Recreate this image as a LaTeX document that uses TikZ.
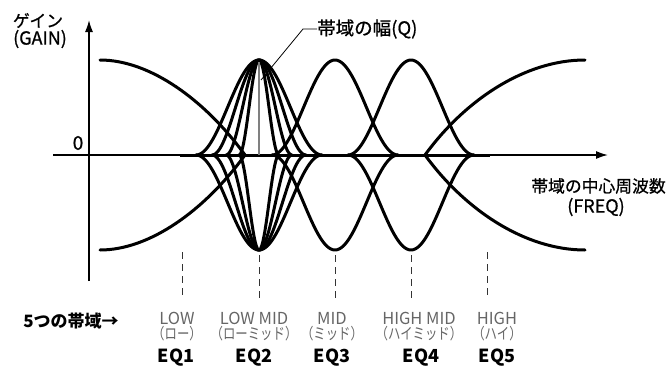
\documentclass[tikz,border=0pt]{standalone}
\usepackage{fontspec}
\setmainfont{Noto Sans CJK JP}
\newfontfamily\kanafont[FakeStretch=0.8]{Noto Sans CJK JP}
\newfontfamily\medfont[FakeBold=0.8]{Noto Sans CJK JP}
\usetikzlibrary{arrows.meta}
\begin{document}
\begin{tikzpicture}[x=1pt,y=-1pt,
  curve/.style={line width=3pt, line join=round, line cap=round},
  axisline/.style={line width=1.5pt, -{Latex[length=12pt,width=8pt]}},
  guide/.style={line width=1pt, black!80, dash pattern=on 7pt off 5pt},
  qline/.style={line width=1.5pt, black!50},
  leader/.style={line width=0.8pt},
  txt/.style={inner sep=0pt, font=\medfont\fontsize{16.8}{17}\selectfont},
  latin/.style={inner sep=0pt, font=\medfont\fontsize{18}{18}\selectfont},
  band/.style={inner sep=0pt, text=black!60, font=\fontsize{16.5}{17}\selectfont},
  kana/.style={inner sep=0pt, text=black!60, font=\kanafont\fontsize{15.5}{16}\selectfont},
  eqlbl/.style={inner sep=0pt, font=\bfseries\fontsize{18}{18}\selectfont}]
\useasboundingbox (0,0) rectangle (672,367);

% axes
\coordinate (xs) at (53,155);
\coordinate (xe) at (608,155);
\coordinate (ys) at (89,281);
\coordinate (ye) at (89,20);
\draw[axisline] (xs) -- (xe);
\draw[axisline] (ys) -- (ye);

% thick base segment
\coordinate (bs) at (180,155);
\coordinate (be) at (490,155);
\draw[curve, line cap=butt] (bs) -- (be);

% low shelf
\coordinate (ls1) at (100,60);
\coordinate (ls2) at (245,155);
\coordinate (ls3) at (100,250);
\draw[curve] (ls1) .. controls (150,60) and (205,100) .. (ls2);
\draw[curve] (ls3) .. controls (150,250) and (205,210) .. (ls2);

% high shelf
\coordinate (hs1) at (425,155);
\coordinate (hs2) at (585,60);
\coordinate (hs3) at (585,250);
\draw[curve] (hs1) .. controls (465,100) and (525,60) .. (hs2);
\draw[curve] (hs1) .. controls (465,210) and (525,250) .. (hs3);

% EQ2 bells with several widths
\foreach \w in {63,47,33,20} {
  \draw[curve] plot[domain=-\w:\w, samples=61, smooth] ({259+\x},{155-47.5*(1+cos(180*\x/\w))});
  \draw[curve] plot[domain=-\w:\w, samples=61, smooth] ({259+\x},{155+47.5*(1+cos(180*\x/\w))});
}
% EQ3, EQ4 bells
\foreach \c in {335,411} {
  \draw[curve] plot[domain=-63:63, samples=61, smooth] ({\c+\x},{155-47.5*(1+cos(180*\x/63))});
  \draw[curve] plot[domain=-63:63, samples=61, smooth] ({\c+\x},{155+47.5*(1+cos(180*\x/63))});
}

% Q marker
\coordinate (q0) at (259,155);
\coordinate (q1) at (259,62);
\draw[qline] (q0) -- (q1);
\coordinate (la) at (261,80);
\coordinate (lb) at (303,29);
\node[txt, anchor=west, font=\medfont\fontsize{18.5}{19}\selectfont] (qlabel) at (317,29) {帯域の幅(Q)};
\draw[leader] (la) -- (lb) -- (qlabel.west);

% axis labels
\node[txt] (gain1) at (38,20.5) {ゲイン};
\node[latin] (gain2) at (40,39) {(GAIN)};
\node[latin, font=\medfont\fontsize{19}{19}\selectfont] (zero) at (78,143) {0};
\node[txt] (freq1) at (598.5,186) {帯域の中心周波数};
\node[latin] (freq2) at (596,207) {(FREQ)};

% guide lines
\foreach \n/\gx/\gy in {1/182/252, 2/259/255, 3/335/255, 4/411/255, 5/487/252} {
  \coordinate (g\n a) at (\gx,\gy);
  \coordinate (g\n b) at (\gx,298);
  \draw[guide] (g\n a) -- (g\n b);
}

% band labels
\node[txt, font=\bfseries\fontsize{17}{17}\selectfont] (five) at (71,321) {5つの帯域→};
\node[band] (b1) at (177,318) {LOW};
\node[kana] (k1) at (177,334) {（ロー）};
\node[eqlbl] (e1) at (176,358) {EQ1};
\node[band] (b2) at (254,318) {LOW MID};
\node[kana] (k2) at (254,334) {（ローミッド）};
\node[eqlbl] (e2) at (254,358) {EQ2};
\node[band] (b3) at (332,318) {MID};
\node[kana] (k3) at (332,334) {（ミッド）};
\node[eqlbl] (e3) at (332,358) {EQ3};
\node[band] (b4) at (419,318) {HIGH MID};
\node[kana] (k4) at (419,334) {（ハイミッド）};
\node[eqlbl] (e4) at (421,358) {EQ4};
\node[band] (b5) at (497,318) {HIGH};
\node[kana] (k5) at (497,334) {（ハイ）};
\node[eqlbl] (e5) at (497,358) {EQ5};
\end{tikzpicture}
\end{document}
